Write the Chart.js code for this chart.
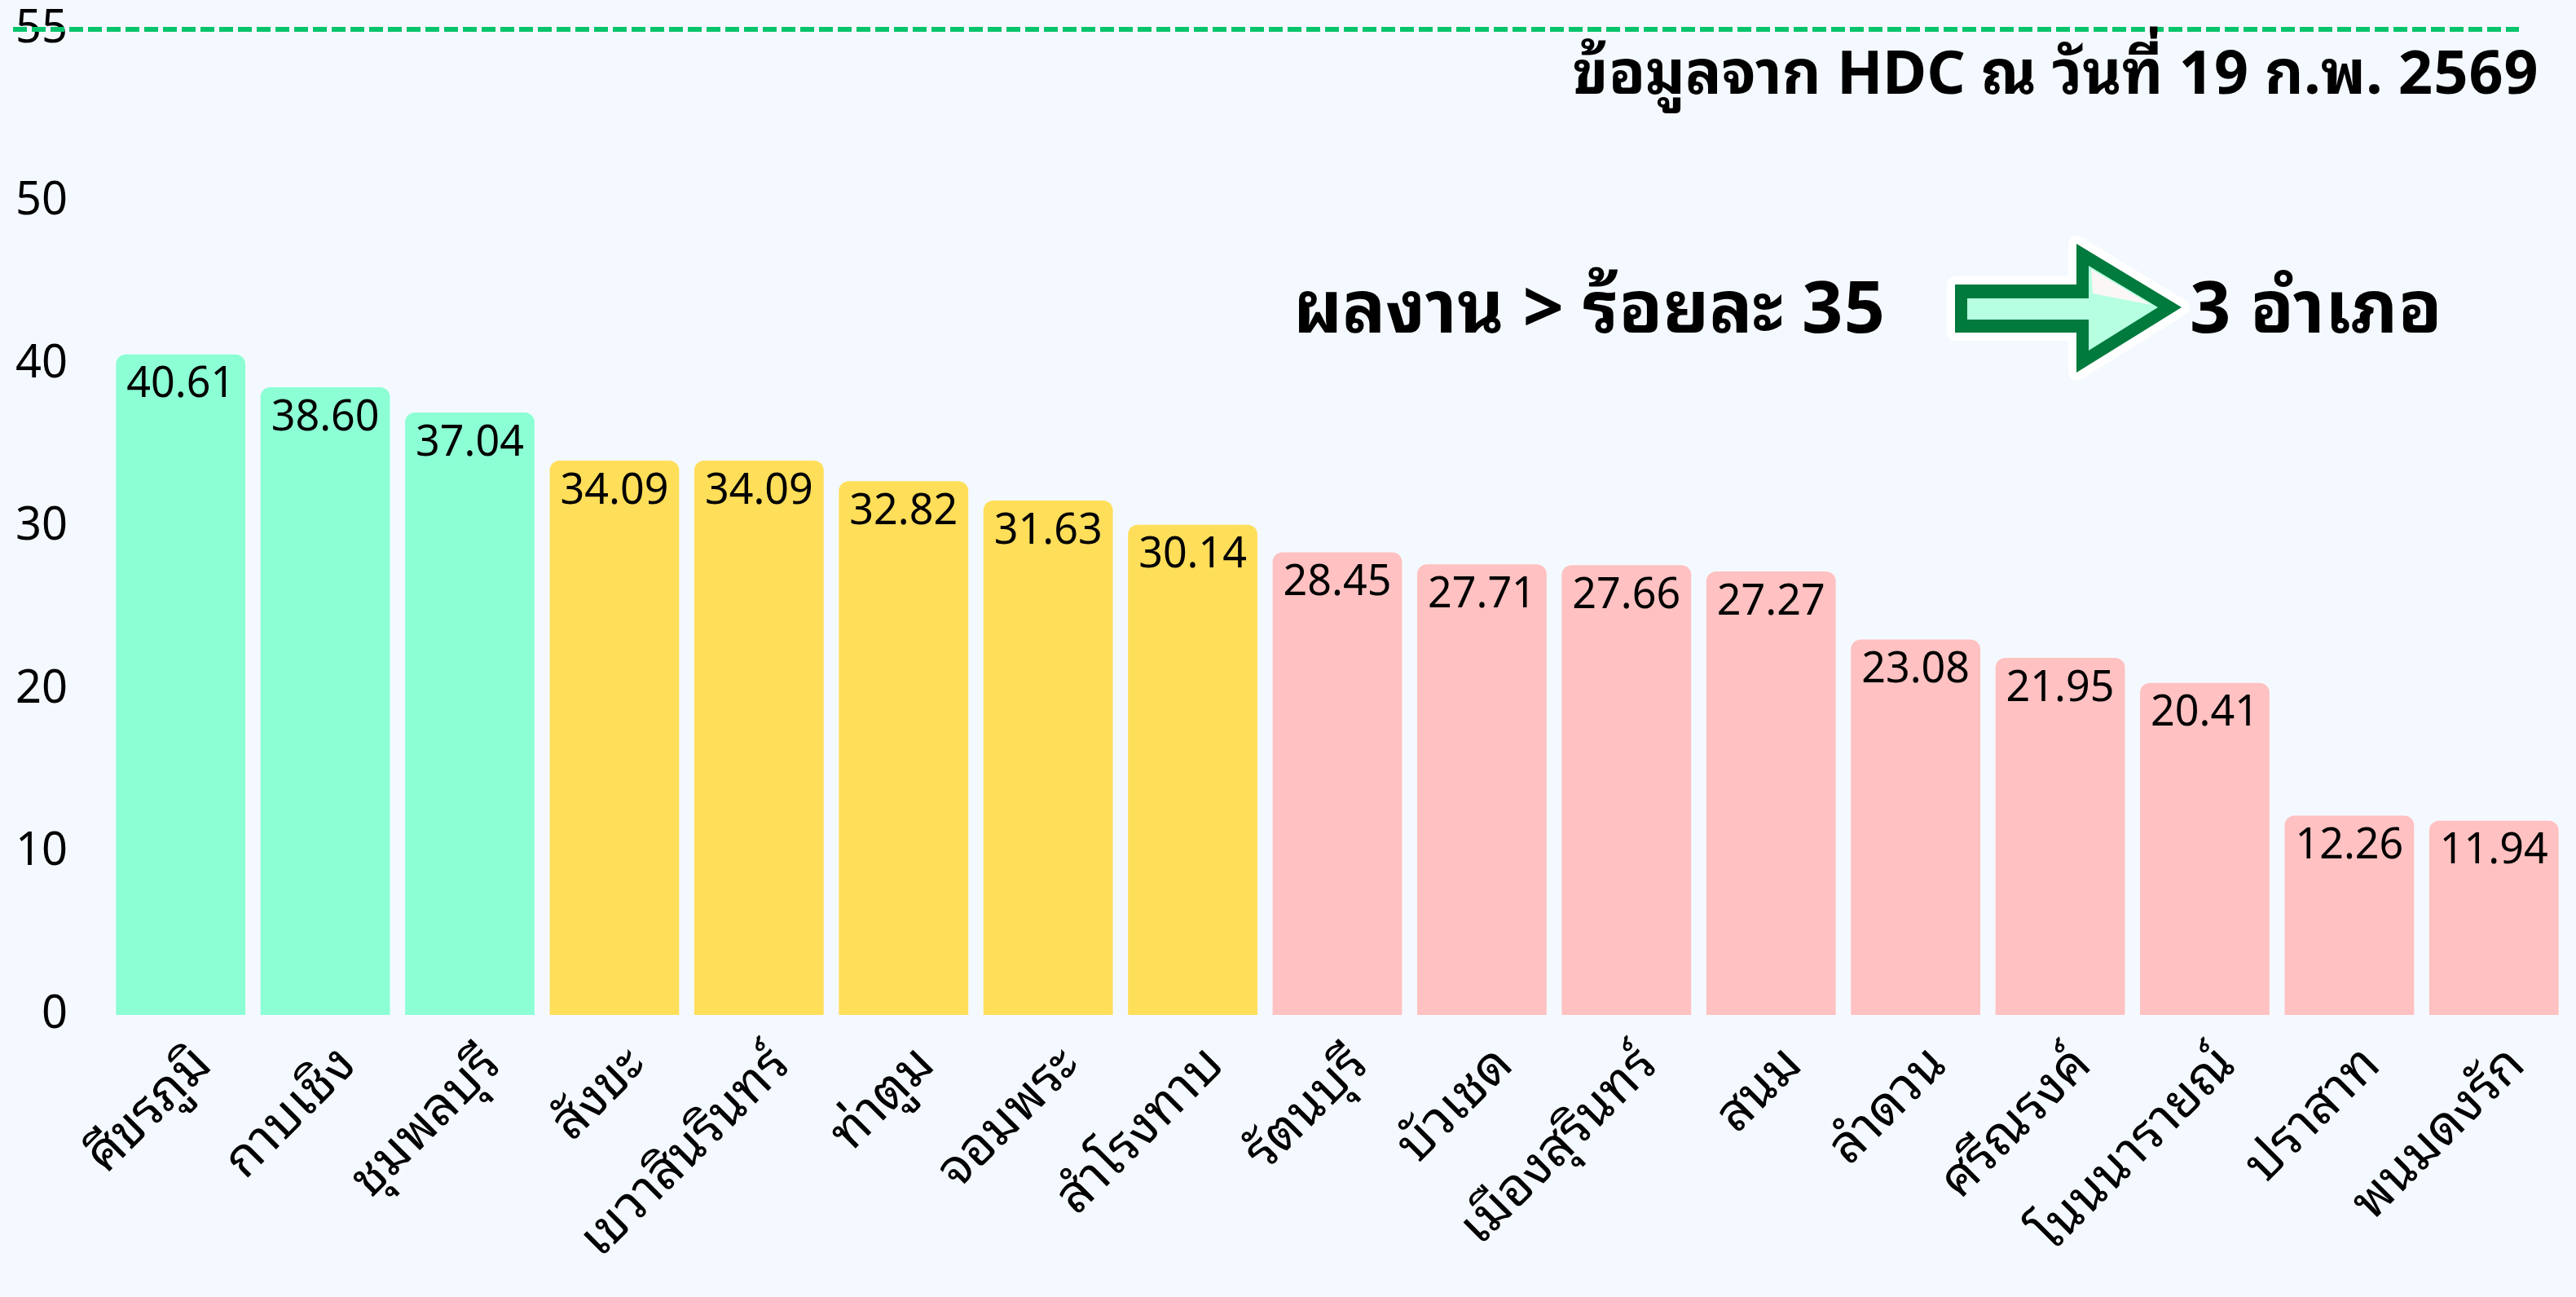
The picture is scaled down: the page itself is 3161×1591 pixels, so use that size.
<!DOCTYPE html>
<html>
<head>
<meta charset="utf-8">
<script src="https://cdn.jsdelivr.net/npm/chart.js@4.4.1/dist/chart.umd.min.js"></script>
<style>
  html, body { margin: 0; padding: 0; background: #f4f9ff; }
  #wrap { width: 3161px; height: 1591px; }
</style>
</head>
<body>
<div id="wrap"><canvas id="c" width="3161" height="1591"></canvas></div>
<script>
const categories = ['ศีขรภูมิ','กาบเชิง','ชุมพลบุรี','สังขะ','เขวาสินรินทร์','ท่าตูม','จอมพระ','สำโรงทาบ','รัตนบุรี','บัวเชด','เมืองสุรินทร์','สนม','ลำดวน','ศรีณรงค์','โนนนารายณ์','ปราสาท','พนมดงรัก'];
const values = [40.61, 38.60, 37.04, 34.09, 34.09, 32.82, 31.63, 30.14, 28.45, 27.71, 27.66, 27.27, 23.08, 21.95, 20.41, 12.26, 11.94];
const yTickValues = [0, 10, 20, 30, 40, 50, 60.6];
const yTickLabels = ['0', '10', '20', '30', '40', '50', '55'];
const titleText = 'ข้อมูลจาก HDC ณ วันที่ 19 ก.พ. 2569';
const noteLeft = 'ผลงาน > ร้อยละ 35';
const noteRight = '3 อำเภอ';

const FONT = "'Noto Sans Thai Looped', 'Sarabun', 'Loma', 'Purisa', 'Noto Sans Thai', 'Noto Sans', 'Lato', sans-serif";
const barColor = v => v >= 35 ? '#8cffd5' : (v >= 30 ? '#ffde5a' : '#ffc1c1');

const bgPlugin = {
  id: 'bg',
  beforeDraw(chart) {
    const ctx = chart.ctx;
    ctx.save();
    ctx.fillStyle = '#f4f9ff';
    ctx.fillRect(0, 0, chart.width, chart.height);
    ctx.restore();
  }
};

const topLinePlugin = {
  id: 'topLine',
  afterDraw(chart) {
    const ctx = chart.ctx;
    const y = chart.scales.y.getPixelForValue(yTickValues[yTickValues.length - 1]);
    ctx.save();
    ctx.strokeStyle = '#05c46b';
    ctx.lineWidth = 6;
    ctx.setLineDash([17, 6]);
    ctx.beginPath();
    ctx.moveTo(16, y);
    ctx.lineTo(3091, y);
    ctx.stroke();
    ctx.restore();
  }
};

const valueLabelPlugin = {
  id: 'valueLabels',
  afterDatasetsDraw(chart) {
    const ctx = chart.ctx;
    const meta = chart.getDatasetMeta(0);
    ctx.save();
    ctx.fillStyle = '#000';
    ctx.font = "52px " + FONT;
    ctx.textAlign = 'center';
    ctx.textBaseline = 'middle';
    meta.data.forEach((bar, i) => {
      ctx.fillText(values[i].toFixed(2), bar.x, bar.y + 38);
    });
    ctx.restore();
  }
};

const notesPlugin = {
  id: 'notes',
  afterDraw(chart) {
    const ctx = chart.ctx;
    ctx.save();
    ctx.fillStyle = '#000';
    ctx.font = "bold 74px " + FONT;
    ctx.textAlign = 'right';
    ctx.textBaseline = 'alphabetic';
    ctx.fillText(titleText, 3115, 115);

    ctx.font = "bold 88px " + FONT;
    ctx.textAlign = 'left';
    ctx.textBaseline = 'middle';
    ctx.fillText(noteLeft, 1587, 383);
    ctx.fillText(noteRight, 2687, 383);

    // arrow
    const inner = [[2414,366],[2563,366],[2563,326],[2648,377],[2563,430],[2563,392],[2414,392]];
    const outer = [[2399,349],[2548,349],[2548,299],[2677,377],[2548,457],[2548,408],[2399,408]];
    const path = pts => { ctx.beginPath(); pts.forEach((p, k) => k ? ctx.lineTo(p[0], p[1]) : ctx.moveTo(p[0], p[1])); ctx.closePath(); };
    ctx.lineJoin = 'round';
    path(outer);
    ctx.strokeStyle = '#ffffff';
    ctx.lineWidth = 20;
    ctx.stroke();
    ctx.fillStyle = '#007a3d';
    ctx.fill();
    path(inner);
    ctx.fillStyle = '#b6ffe1';
    ctx.fill();
    path([[2566,330],[2568,360],[2640,374]]);
    ctx.fillStyle = '#fbf7f7';
    ctx.fill();
    ctx.restore();
  }
};

new Chart(document.getElementById('c'), {
  type: 'bar',
  data: {
    labels: categories,
    datasets: [{
      data: values,
      backgroundColor: values.map(barColor),
      borderRadius: 12,
      borderSkipped: 'start',
      barPercentage: 0.895,
      categoryPercentage: 1
    }]
  },
  options: {
    responsive: false,
    animation: false,
    devicePixelRatio: 1,
    layout: { padding: { top: 36, right: 12, left: 0, bottom: 0 } },
    plugins: { legend: { display: false }, tooltip: { enabled: false } },
    scales: {
      x: {
        grid: { display: false },
        border: { display: false },
        ticks: {
          color: '#000',
          font: { family: FONT, size: 64 },
          minRotation: 45,
          maxRotation: 45,
          padding: 16,
          labelOffset: 28,
          autoSkip: false
        },
        afterFit: s => { s.height = 346; }
      },
      y: {
        min: 0,
        max: yTickValues[yTickValues.length - 1],
        grid: { display: false },
        border: { display: false },
        afterBuildTicks: s => { s.ticks = yTickValues.map(v => ({ value: v })); },
        ticks: {
          color: '#000',
          font: { family: FONT, size: 56 },
          padding: 42,
          callback: (v) => yTickLabels[yTickValues.indexOf(v)]
        },
        afterFit: s => { s.width = 133; s.paddingTop = 0; }
      }
    }
  },
  plugins: [bgPlugin, valueLabelPlugin, topLinePlugin, notesPlugin]
});
</script>
</body>
</html>
